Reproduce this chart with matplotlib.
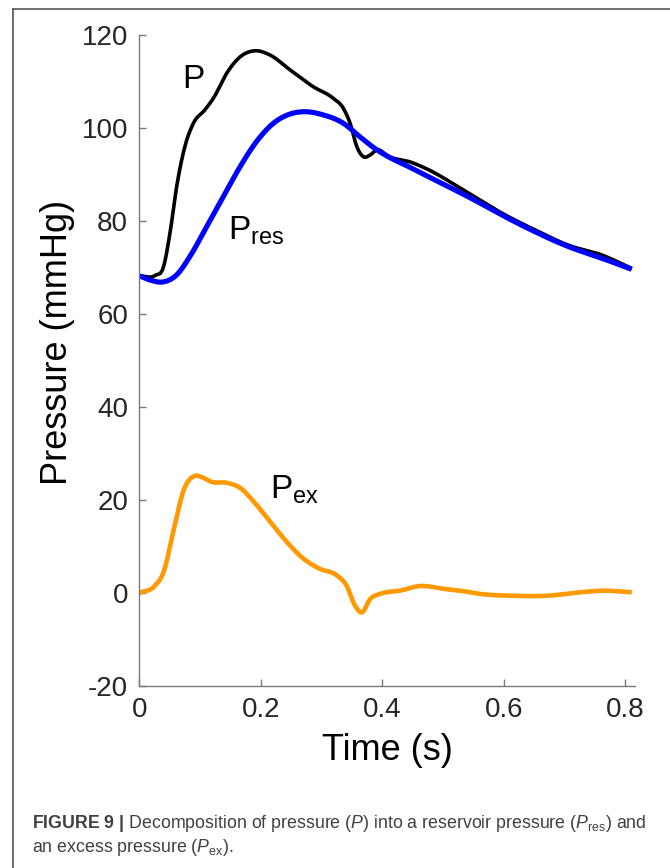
import numpy as np
import matplotlib.pyplot as plt
from matplotlib.lines import Line2D

plt.rcParams['font.family'] = ['Liberation Sans', 'DejaVu Sans']
plt.rcParams['mathtext.fontset'] = 'custom'
plt.rcParams['mathtext.rm'] = 'Liberation Sans'
plt.rcParams['mathtext.it'] = 'Liberation Sans:italic'
plt.rcParams['mathtext.bf'] = 'Liberation Sans:bold'
plt.rcParams['axes.unicode_minus'] = False

# measured pressure P (s, mmHg)
t_p = [0.0, 0.026, 0.040, 0.0505, 0.0615, 0.075, 0.089, 0.108, 0.122, 0.144,
       0.166, 0.190, 0.215, 0.248, 0.286, 0.319, 0.336, 0.347, 0.358, 0.369,
       0.380, 0.391, 0.41, 0.448, 0.47, 0.5415, 0.5965, 0.651, 0.706, 0.761, 0.8105]
p = [68.2, 68.3, 70.2, 77.4, 87.4, 96.0, 101.0, 103.9, 106.4, 111.8,
     115.3, 116.6, 115.7, 112.5, 108.9, 106.4, 104.2, 101.0, 96.0, 93.8,
     94.2, 95.3, 93.9, 92.6, 91.4, 86.0, 81.7, 78.1, 74.8, 72.7, 69.8]

# reservoir pressure P_res
t_res = [0.0, 0.0176, 0.040, 0.0615, 0.083, 0.111, 0.138, 0.166, 0.193, 0.2206,
         0.248, 0.270, 0.303, 0.336, 0.363, 0.391, 0.4045, 0.443, 0.4868, 0.5415,
         0.5965, 0.651, 0.706, 0.761, 0.8105]
p_res = [68.2, 67.3, 66.9, 68.4, 72.3, 78.8, 85.2, 91.7, 97.1, 101.0,
         103.0, 103.5, 102.8, 101.0, 98.1, 95.3, 94.2, 91.7, 88.8, 85.2,
         81.3, 77.7, 74.5, 72.0, 69.6]

# excess pressure P_ex
t_ex = [0.0, 0.026, 0.040, 0.056, 0.0725, 0.0917, 0.103, 0.119, 0.144, 0.166,
        0.188, 0.215, 0.2426, 0.270, 0.297, 0.325, 0.341, 0.355, 0.366, 0.380,
        0.396, 0.429, 0.462, 0.500, 0.533, 0.561, 0.616, 0.671, 0.7255, 0.764, 0.8105]
p_ex = [0.0, 1.6, 4.5, 13.2, 21.9, 25.2, 24.9, 23.9, 23.7, 22.6,
        19.7, 15.4, 11.0, 7.4, 5.2, 3.8, 1.6, -2.7, -4.2, -1.3,
        -0.2, 0.5, 1.5, 0.9, 0.4, -0.2, -0.6, -0.6, 0.15, 0.5, 0.15]

xticks = [0, 0.2, 0.4, 0.6, 0.8]
xticklabels = ['0', '0.2', '0.4', '0.6', '0.8']
yticks = [-20, 0, 20, 40, 60, 80, 100, 120]


def smooth(x, y, n=400):
    # cubic Hermite resampling so the traces look continuous
    x = np.asarray(x)
    y = np.asarray(y)
    xs = np.linspace(x[0], x[-1], n)
    m = np.gradient(y, x)
    out = np.empty_like(xs)
    idx = np.clip(np.searchsorted(x, xs) - 1, 0, len(x) - 2)
    for k, (xi, i) in enumerate(zip(xs, idx)):
        h = x[i + 1] - x[i]
        s = (xi - x[i]) / h
        h00 = 2 * s**3 - 3 * s**2 + 1
        h10 = s**3 - 2 * s**2 + s
        h01 = -2 * s**3 + 3 * s**2
        h11 = s**3 - s**2
        out[k] = h00 * y[i] + h10 * h * m[i] + h01 * y[i + 1] + h11 * h * m[i + 1]
    return xs, out


fig = plt.figure(figsize=(6.7, 8.68), dpi=100)
ax = fig.add_axes([0.2079, 0.2097, 0.740, 0.750])

ax.plot(*smooth(t_p, p), color='black', lw=2.6, solid_capstyle='butt')
ax.plot(*smooth(t_res, p_res), color='#0000ff', lw=3.7, solid_capstyle='butt')
ax.plot(*smooth(t_ex, p_ex), color='#ff9900', lw=3.3, solid_capstyle='butt')

ax.text(0.071, 108.6, 'P', fontsize=24, color='black')
ax.text(0.146, 75.9, r'P$_{\mathrm{res}}$', fontsize=24, color='black')
ax.text(0.215, 20.4, r'P$_{\mathrm{ex}}$', fontsize=24, color='black')

ax.set_xlim(0, 0.816)
ax.set_ylim(-20, 120)
ax.set_xticks(xticks)
ax.set_xticklabels(xticklabels)
ax.set_yticks(yticks)
ax.spines['top'].set_visible(False)
ax.spines['right'].set_visible(False)
for s in ['left', 'bottom']:
    ax.spines[s].set_color('#7a7a7a')
    ax.spines[s].set_linewidth(1.0)
ax.tick_params(direction='in', length=5, width=1.0, color='#7a7a7a',
               labelsize=20, labelcolor='#262626', pad=8)
ax.set_xlabel('Time (s)', fontsize=26, color='black', labelpad=7)
ax.set_ylabel('Pressure (mmHg)', fontsize=26, color='black')
ax.yaxis.set_label_coords(-0.13, 0.528)

# panel frame
fig.add_artist(Line2D([13 / 670, 1.0], [1 - 9 / 868, 1 - 9 / 868],
                      transform=fig.transFigure, color='#555555', lw=1.2))
fig.add_artist(Line2D([13 / 670, 13 / 670], [0.0, 1 - 9 / 868],
                      transform=fig.transFigure, color='#555555', lw=1.2))

# caption
fig.text(31.7 / 670, 1 - 828.3 / 868,
         r'$\mathbf{FIGURE\ 9\ |}$ Decomposition of pressure ($\mathit{P}$) into a '
         r'reservoir pressure ($\mathit{P}_{\mathrm{res}}$) and',
         fontsize=12.8, color='#404040', ha='left', va='baseline')
fig.text(31.7 / 670, 1 - 852 / 868,
         r'an excess pressure ($\mathit{P}_{\mathrm{ex}}$).',
         fontsize=12.8, color='#404040', ha='left', va='baseline')

fig.savefig('out.png', dpi=100)
